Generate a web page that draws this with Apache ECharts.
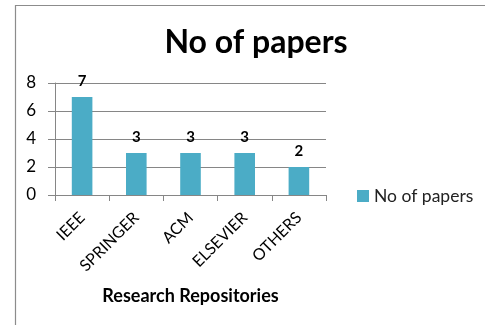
<!DOCTYPE html>
<html><head><meta charset="utf-8">
<script src="https://cdn.jsdelivr.net/npm/echarts@6/dist/echarts.min.js"></script>
<style>html,body{margin:0;padding:0;background:#fff}#c{width:485px;height:325px}</style>
</head><body><div id="c"></div>
<script>
const categories = ['IEEE', 'SPRINGER', 'ACM', 'ELSEVIER', 'OTHERS'];
const papers = [7, 3, 3, 3, 2];
const yTicks = {min: 0, max: 8, interval: 2};
const seriesName = 'No of papers';
const titleText = 'No of papers';
const xAxisName = 'Research Repositories';

const FONT = 'Lato';
const chart = echarts.init(document.getElementById('c'), null, {renderer: 'canvas'});
chart.setOption({
  animation: false,
  textStyle: {fontFamily: FONT},
  graphic: [{
    type: 'rect', shape: {x: 15.5, y: 5.5, width: 600, height: 600},
    style: {fill: 'none', stroke: '#8c8c8c', lineWidth: 1.2}, silent: true
  }],
  title: {
    text: titleText, left: 251, top: 22, textAlign: 'center',
    textStyle: {fontFamily: FONT, fontWeight: 'bold', fontSize: 32, color: '#000'}
  },
  legend: {
    data: [seriesName], left: 352, top: 182, itemWidth: 12, itemHeight: 12, icon: 'rect',
    itemGap: 4,
    textStyle: {fontFamily: FONT, fontSize: 17.5, color: '#222'}
  },
  grid: {left: 55, right: 159, top: 83, bottom: 130, containLabel: false},
  xAxis: {
    type: 'category', data: categories,
    name: xAxisName, nameLocation: 'middle', nameGap: 92,
    nameTextStyle: {fontFamily: FONT, fontWeight: 'bold', fontSize: 18, color: '#000'},
    axisLine: {lineStyle: {color: '#868686'}},
    axisTick: {show: true, length: 6, lineStyle: {color: '#868686'}, alignWithLabel: false},
    axisLabel: {rotate: 45, margin: 20, fontFamily: FONT, fontSize: 16, color: '#000', interval: 0}
  },
  yAxis: {
    type: 'value', min: yTicks.min, max: yTicks.max, interval: yTicks.interval,
    axisLine: {show: true, lineStyle: {color: '#868686'}},
    axisTick: {show: true, length: 7, lineStyle: {color: '#868686'}},
    splitLine: {lineStyle: {color: '#868686'}},
    axisLabel: {margin: 19, fontFamily: FONT, fontSize: 17, color: '#000'}
  },
  series: [{
    name: seriesName, type: 'bar', data: papers, barWidth: '38%',
    itemStyle: {color: '#4BACC6'},
    label: {show: true, position: 'top', distance: 8, fontFamily: FONT, fontWeight: 'bold', fontSize: 15, color: '#000'}
  }]
});
</script></body></html>
